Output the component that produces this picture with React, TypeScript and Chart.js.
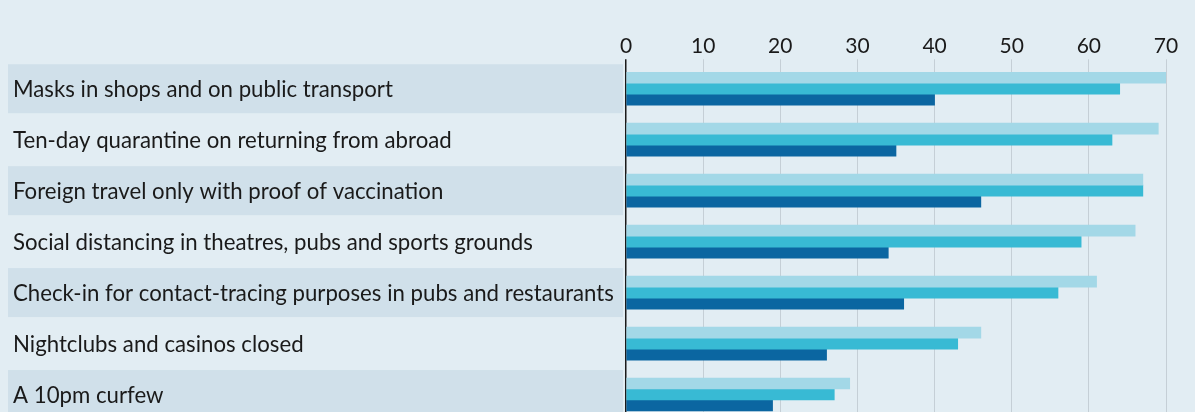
import React, { useEffect, useRef } from "react";
import { Chart, registerables } from "chart.js";

Chart.register(...registerables);

const categories = [
  "Masks in shops and on public transport",
  "Ten-day quarantine on returning from abroad",
  "Foreign travel only with proof of vaccination",
  "Social distancing in theatres, pubs and sports grounds",
  "Check-in for contact-tracing purposes in pubs and restaurants",
  "Nightclubs and casinos closed",
  "A 10pm curfew",
];

const seriesLight = [70, 69, 67, 66, 61, 46, 29];
const seriesMid = [64, 63, 67, 59, 56, 43, 27];
const seriesDark = [40, 35, 46, 34, 36, 26, 19];

const xTickValues = [0, 10, 20, 30, 40, 50, 60, 70];

const BG = "#e2edf3";
const BAND = "#d0e0ea";
const TEXT = "#1a1a1a";
const FONT = "Lato";

const bandPlugin = {
  id: "bandsAndLabels",
  beforeDatasetsDraw(chart: any) {
    const { ctx, chartArea } = chart;
    const y = chart.scales.y;
    const pitch = Math.abs(y.getPixelForValue(1) - y.getPixelForValue(0));
    ctx.save();
    categories.forEach((c, i) => {
      const yc = y.getPixelForValue(i);
      if (i % 2 === 0) {
        ctx.fillStyle = BAND;
        ctx.fillRect(8, yc - (pitch - 2) / 2, chartArea.left - 11, pitch - 2);
      }
    });
    ctx.fillStyle = TEXT;
    ctx.font = `24px ${FONT}`;
    ctx.textBaseline = "middle";
    ctx.textAlign = "left";
    const sx = 0.926;
    categories.forEach((c, i) => {
      const yc = y.getPixelForValue(i);
      ctx.save();
      ctx.translate(13, yc + 0.5);
      ctx.scale(sx, 1);
      ctx.fillText(c, 0, 0);
      ctx.restore();
    });
    ctx.restore();
  },
};

export default function App() {
  const ref = useRef<HTMLCanvasElement | null>(null);

  useEffect(() => {
    if (!ref.current) return;
    const chart = new Chart(ref.current, {
      type: "bar",
      data: {
        labels: categories,
        datasets: [
          { label: "Light", data: seriesLight, backgroundColor: "#a3d8e7", barThickness: 11, borderWidth: 0 },
          { label: "Mid", data: seriesMid, backgroundColor: "#38bad4", barThickness: 11, borderWidth: 0 },
          { label: "Dark", data: seriesDark, backgroundColor: "#0b66a1", barThickness: 11, borderWidth: 0 },
        ],
      },
      options: {
        indexAxis: "y",
        animation: false,
        responsive: false,
        devicePixelRatio: 1,
        layout: { padding: { left: 626, right: 29, top: 33, bottom: 10 } },
        plugins: {
          legend: { display: false },
          tooltip: { enabled: false },
        },
        scales: {
          x: {
            position: "top",
            min: 0,
            max: 70,
            afterBuildTicks: (scale: any) => {
              scale.ticks = xTickValues.map((v) => ({ value: v }));
            },
            ticks: {
              color: TEXT,
              font: { family: FONT, size: 21, lineHeight: 1.25 },
              padding: 0,
            },
            grid: {
              color: (ctx: any) => (ctx.tick && ctx.tick.value === 0 ? "#1a1a1a" : "#c5cfd6"),
              lineWidth: (ctx: any) => (ctx.tick && ctx.tick.value === 0 ? 1.5 : 1),
              tickLength: 4,
              drawTicks: true,
            },
            border: { display: false },
          },
          y: {
            display: false,
          },
        },
      },
      plugins: [bandPlugin],
    });
    return () => chart.destroy();
  }, []);

  return (
    <div
      style={{
        position: "absolute",
        left: 0,
        top: 0,
        width: 1195,
        height: 412,
        overflow: "hidden",
        background: BG,
      }}
    >
      <canvas ref={ref} width={1195} height={430} style={{ display: "block" }} />
    </div>
  );
}
